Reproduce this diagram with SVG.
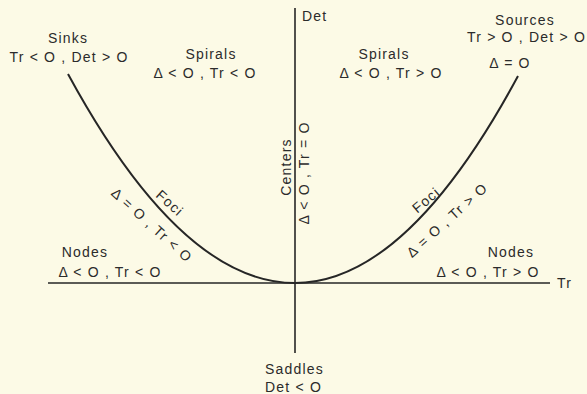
<svg xmlns="http://www.w3.org/2000/svg" width="587" height="394" viewBox="0 0 587 394">
<style>
text{font-family:"Liberation Sans",Arial,sans-serif;font-size:14px;fill:#2b2b2b;letter-spacing:1.2px}
.m{text-anchor:middle}
.ax{stroke:#262626;stroke-width:1.6;fill:none}
.cv{stroke:#262626;stroke-width:2;fill:none}
</style>
<rect width="587" height="394" fill="#fcfae6"/>
<g id="connectors">
<line class="ax" x1="295" y1="8" x2="295" y2="353"/>
<line class="ax" x1="48" y1="283" x2="550" y2="283"/>
<path class="cv" d="M68 74 Q181.5 283 295 283 Q406.5 283 518 76"/>
</g>
<g id="det-axis"><text x="302" y="21">Det</text></g>
<g id="tr-axis"><text x="557" y="288">Tr</text></g>
<g id="sinks"><text class="m" x="68" y="43">Sinks</text><text class="m" x="69" y="62">Tr &lt; O , Det &gt; O</text></g>
<g id="spirals-left"><text class="m" x="211" y="59">Spirals</text><text class="m" x="205" y="78">Δ &lt; O , Tr &lt; O</text></g>
<g id="spirals-right"><text class="m" x="384" y="59">Spirals</text><text class="m" x="391" y="78">Δ &lt; O , Tr &gt; O</text></g>
<g id="sources"><text class="m" x="525" y="25">Sources</text><text x="586" y="42" style="text-anchor:end">Tr &gt; O , Det &gt; O</text><text class="m" x="510" y="68">Δ = O</text></g>
<g id="centers">
<text class="m" transform="translate(286,167) rotate(-90)" y="5">Centers</text>
<text class="m" transform="translate(304,173) rotate(-90)" y="5">Δ &lt; O , Tr = O</text>
</g>
<g id="foci-left">
<text class="m" transform="translate(170,203) rotate(42)" y="5">Foci</text>
<text class="m" transform="translate(152,225) rotate(42)" y="5">Δ = O , Tr &lt; O</text>
</g>
<g id="foci-right">
<text class="m" transform="translate(426,200) rotate(-40)" y="5">Foci</text>
<text class="m" transform="translate(447,220) rotate(-42)" y="5">Δ = O , Tr &gt; O</text>
</g>
<g id="nodes-left"><text class="m" x="85" y="257">Nodes</text><text class="m" x="110" y="277">Δ &lt; O , Tr &lt; O</text></g>
<g id="nodes-right"><text class="m" x="511" y="257">Nodes</text><text class="m" x="488" y="277">Δ &lt; O , Tr &gt; O</text></g>
<g id="saddles"><text x="265" y="374">Saddles</text><text x="265" y="392">Det &lt; O</text></g>
</svg>
